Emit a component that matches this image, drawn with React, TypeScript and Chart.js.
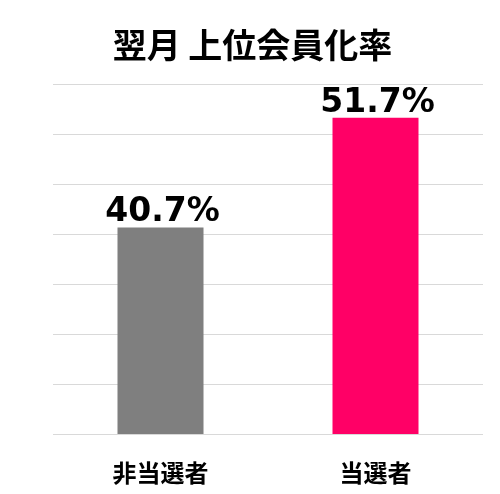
import React, { useEffect, useRef } from 'react';
import Chart from 'chart.js/auto';

// chart data
const categories = ['非当選者', '当選者'];
const rates = [40.7, 51.7];
const barColors = ['#7F7F7F', '#FF0066'];
const titleText = '翌月 上位会員化率';
const yMin = 20;
const yMax = 55;
const yStep = 5;

const cjkFont = '"Noto Sans CJK JP", "DejaVu Sans", sans-serif';

// draws the percent labels above each bar
const valueLabels = {
  id: 'valueLabels',
  afterDatasetsDraw(chart: any) {
    const ctx = chart.ctx;
    const meta = chart.getDatasetMeta(0);
    ctx.save();
    ctx.font = 'bold 33px "DejaVu Sans", sans-serif';
    ctx.fillStyle = '#000000';
    ctx.textAlign = 'center';
    ctx.textBaseline = 'alphabetic';
    meta.data.forEach((bar: any, i: number) => {
      ctx.fillText(rates[i].toFixed(1) + '%', bar.x + 2, bar.y - 6);
    });
    ctx.restore();
  },
};

const App = () => {
  const canvasRef = useRef<HTMLCanvasElement | null>(null);
  const chartRef = useRef<any>(null);

  useEffect(() => {
    document.body.style.margin = '0';
    if (!canvasRef.current) return;

    if (chartRef.current) {
      chartRef.current.destroy();
    }

    chartRef.current = new Chart(canvasRef.current, {
      type: 'bar',
      data: {
        labels: categories,
        datasets: [
          {
            data: rates,
            backgroundColor: barColors,
            borderWidth: 0,
            categoryPercentage: 1,
            barPercentage: 0.4,
          },
        ],
      },
      plugins: [valueLabels],
      options: {
        responsive: false,
        animation: false,
        layout: {
          padding: { left: 22, right: 17, top: 0, bottom: 0 },
        },
        plugins: {
          legend: { display: false },
          tooltip: { enabled: false },
          title: {
            display: true,
            text: titleText,
            color: '#000000',
            font: { family: cjkFont, size: 34, weight: 'bold', lineHeight: 1.2 },
            padding: { top: 25, bottom: 19 },
          },
        },
        scales: {
          x: {
            grid: { display: false, drawTicks: false },
            border: { display: false },
            ticks: {
              color: '#000000',
              padding: 24,
              font: { family: cjkFont, size: 24, weight: 'bold' },
            },
            afterFit(scale: any) {
              scale.height = 60;
            },
          },
          y: {
            min: yMin,
            max: yMax,
            border: { display: false },
            grid: { color: '#D9D9D9', lineWidth: 1, drawTicks: false },
            ticks: { display: false, stepSize: yStep },
            afterFit(scale: any) {
              scale.width = 31;
            },
          },
        },
      },
    } as any);

    return () => {
      if (chartRef.current) {
        chartRef.current.destroy();
        chartRef.current = null;
      }
    };
  }, []);

  return (
    <div style={{ width: 500, height: 494, background: '#ffffff' }}>
      <canvas ref={canvasRef} width={500} height={494} />
    </div>
  );
};

export default App;
